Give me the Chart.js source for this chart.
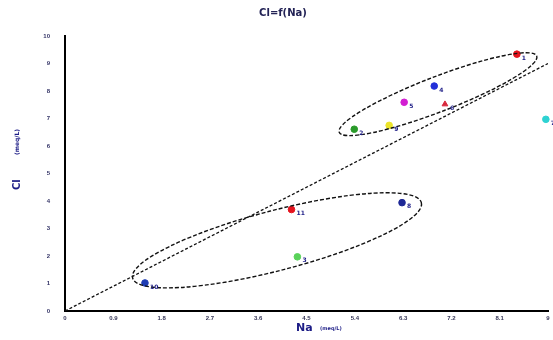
<!DOCTYPE html>
<html>
<head>
<meta charset="utf-8">
<script src="https://cdn.jsdelivr.net/npm/chart.js@4.4.0/dist/chart.umd.min.js"></script>
<style>
  html, body { margin: 0; padding: 0; background: #fff; }
  #wrap { width: 553px; height: 340px; }
</style>
</head>
<body>
<div id="wrap"><canvas id="graficoCl" width="553" height="340"></canvas></div>
<script>
// datos
const sampleLabels = ['1', '2', '3', '4', '5', '6', '7', '8', '9', '10', '11'];
const naValues = [8.42, 5.39, 4.33, 6.88, 6.32, 7.08, 8.96, 6.28, 6.04, 1.49, 4.22];
const clValues = [9.34, 6.61, 1.97, 8.18, 7.59, 7.52, 6.97, 3.94, 6.75, 1.02, 3.69];
const pointColors = ['#e5141e', '#2a9a2a', '#5ad25a', '#2330d8', '#d21ed2', '#d8283c', '#2ed2d2', '#1e2896', '#ece42a', '#1e3cb4', '#e5141e'];
const pointShapes = ['circle', 'circle', 'circle', 'circle', 'circle', 'triangle', 'circle', 'circle', 'circle', 'circle', 'circle'];

const xTicks = [0, 0.9, 1.8, 2.7, 3.6, 4.5, 5.4, 6.3, 7.2, 8.1, 9];
const yTicks = [0, 1, 2, 3, 4, 5, 6, 7, 8, 9, 10];

// droite 1:1
const refLineX = [0, 9];
const refLineY = [0, 9];

// groupes (extremites de l'ellipse en Na / Cl)
const groupStart = [[5.11, 6.5], [1.26, 1.2]];
const groupEnd = [[8.79, 9.27], [6.64, 3.94]];

const navy = '#1c1c86';

const extras = {
    id: 'extras',
    afterDatasetsDraw(chart) {
        const { ctx, scales: { x, y } } = chart;
        ctx.save();

        // ellipses
        const halfWidth = [17.5, 30];
        groupStart.forEach((s, i) => {
            const x1 = x.getPixelForValue(s[0]), y1 = y.getPixelForValue(s[1]);
            const x2 = x.getPixelForValue(groupEnd[i][0]), y2 = y.getPixelForValue(groupEnd[i][1]);
            const cx = (x1 + x2) / 2, cy = (y1 + y2) / 2;
            const rx = Math.hypot(x2 - x1, y2 - y1) / 2;
            const ang = Math.atan2(y2 - y1, x2 - x1);
            ctx.beginPath();
            ctx.setLineDash([4, 2]);
            ctx.lineWidth = 1.4;
            ctx.strokeStyle = '#111';
            ctx.ellipse(cx, cy, rx, halfWidth[i], ang, 0, Math.PI * 2);
            ctx.stroke();
        });
        ctx.setLineDash([]);

        // etiquettes des points
        ctx.fillStyle = navy;
        ctx.font = 'bold 6px "DejaVu Sans"';
        ctx.textBaseline = 'middle';
        sampleLabels.forEach((lab, i) => {
            const px = x.getPixelForValue(naValues[i]);
            const py = y.getPixelForValue(clValues[i]);
            ctx.fillText(lab, px + 5, py + 4);
        });

        // titre
        ctx.fillStyle = '#222255';
        ctx.font = 'bold 10px "DejaVu Sans"';
        ctx.textAlign = 'center';
        ctx.fillText('Cl=f(Na)', 283, 13);

        // titre axe X
        ctx.fillStyle = navy;
        ctx.textAlign = 'left';
        ctx.font = 'bold 11px "DejaVu Sans"';
        ctx.fillText('Na', 296, 328);
        ctx.font = 'bold 5px "DejaVu Sans"';
        ctx.fillText('(meq/L)', 320, 329);

        // titre axe Y
        ctx.translate(17, 190);
        ctx.rotate(-Math.PI / 2);
        ctx.font = 'bold 10px "DejaVu Sans"';
        ctx.fillText('Cl', 0, 0);
        ctx.font = 'bold 6px "DejaVu Sans"';
        ctx.fillText('(meq/L)', 35, 0);
        ctx.restore();
    }
};

const ctxCl = document.getElementById('graficoCl').getContext('2d');
new Chart(ctxCl, {
    type: 'scatter',
    data: {
        datasets: [
            {
                label: 'echantillons',
                data: naValues.map((v, i) => ({ x: v, y: clValues[i] })),
                backgroundColor: pointColors,
                borderColor: pointColors,
                pointStyle: pointShapes,
                pointRadius: 3.3,
                clip: false
            },
            {
                type: 'line',
                label: '1:1',
                data: refLineX.map((v, i) => ({ x: v, y: refLineY[i] })),
                borderColor: '#111',
                borderWidth: 1.3,
                borderDash: [3, 2],
                pointRadius: 0,
                fill: false
            }
        ]
    },
    options: {
        responsive: false,
        animation: false,
        devicePixelRatio: 1,
        layout: { padding: { top: 36, right: 4, left: 0, bottom: 0 } },
        plugins: { legend: { display: false }, tooltip: { enabled: false } },
        scales: {
            x: {
                type: 'linear', min: 0, max: 9,
                afterBuildTicks: (s) => { s.ticks = xTicks.map(v => ({ value: v })); },
                afterFit: (s) => { s.height = 29; },
                grid: { display: false, drawTicks: true, tickLength: 3, tickColor: '#333' },
                border: { display: true, color: '#000', width: 2 },
                ticks: { color: '#333355', font: { size: 6, weight: 'bold' }, padding: 1, maxRotation: 0, autoSkip: false, callback: (v) => String(v) }
            },
            y: {
                type: 'linear', min: 0, max: 10,
                afterBuildTicks: (s) => { s.ticks = yTicks.map(v => ({ value: v })); },
                afterFit: (s) => { s.width = 65; },
                grid: { display: false, drawTicks: true, tickLength: 5, tickColor: '#aa6655' },
                border: { display: true, color: '#000', width: 2 },
                ticks: { color: '#333366', font: { size: 6, weight: 'bold' }, padding: 10, callback: (v) => String(v) }
            }
        }
    },
    plugins: [extras]
});
</script>
</body>
</html>
